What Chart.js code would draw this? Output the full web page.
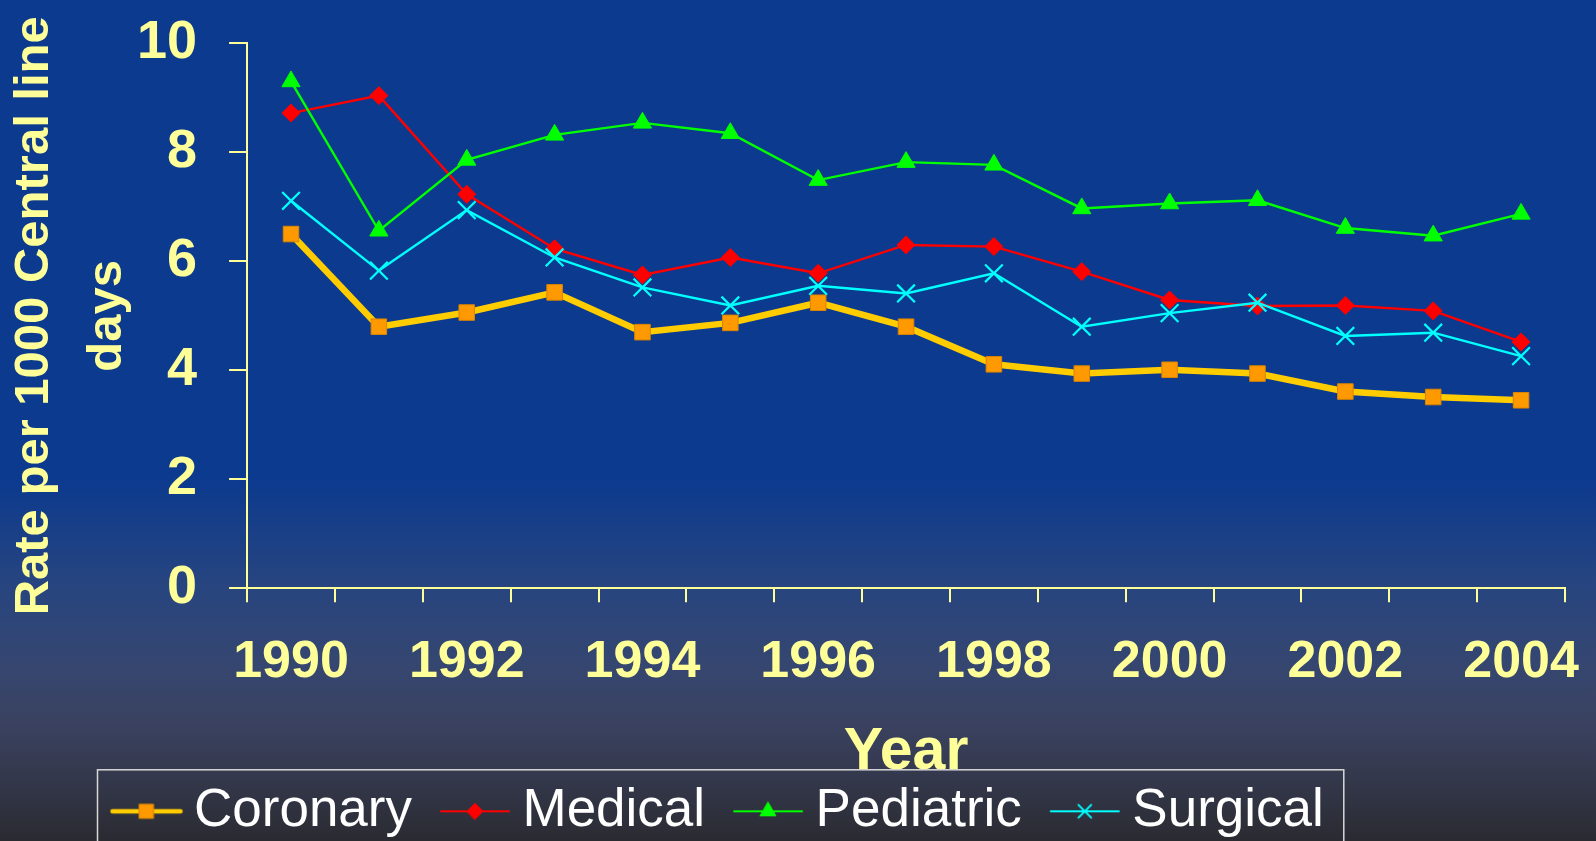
<!DOCTYPE html>
<html>
<head>
<meta charset="utf-8">
<title>Central line infection rates 1990-2004</title>
<script src="https://cdn.jsdelivr.net/npm/chart.js@4.4.1/dist/chart.umd.min.js"></script>
<style>
    html, body { margin: 0; padding: 0; background: #0c3a8e; }
    #wrap { position: relative; width: 1596px; height: 841px; }
</style>
</head>
<body>
<div id="wrap"><canvas id="rateChart"></canvas></div>
<script>
// ─── Data ───
const years = ['1990', '1991', '1992', '1993', '1994', '1995', '1996', '1997',
               '1998', '1999', '2000', '2001', '2002', '2003', '2004'];
const coronary  = [6.50, 4.80, 5.06, 5.43, 4.70, 4.87, 5.24, 4.80, 4.11, 3.94, 4.01, 3.94, 3.61, 3.51, 3.45];
const medical   = [8.72, 9.04, 7.23, 6.23, 5.75, 6.07, 5.78, 6.30, 6.27, 5.81, 5.29, 5.18, 5.19, 5.09, 4.52];
const pediatric = [9.30, 6.56, 7.86, 8.32, 8.54, 8.35, 7.49, 7.82, 7.77, 6.97, 7.06, 7.12, 6.61, 6.47, 6.87];
const surgical  = [7.11, 5.83, 6.94, 6.07, 5.52, 5.19, 5.55, 5.41, 5.78, 4.80, 5.05, 5.24, 4.63, 4.69, 4.26];
const yTicks = [0, 2, 4, 6, 8, 10];

// ─── Theme ───
const AXIS = '#ffff99';
const FONT = "'Liberation Sans', Arial, sans-serif";
Chart.defaults.font.family = FONT;

let bgGradient = null;
function getBackground(ctx, h) {
    const g = ctx.createLinearGradient(0, 0, 0, h);
    g.addColorStop(0, '#0c3a8e');
    g.addColorStop(0.57, '#0c3a8e');
    g.addColorStop(0.70, '#28457f');
    g.addColorStop(0.79, '#354670');
    g.addColorStop(0.86, '#3a4260');
    g.addColorStop(0.93, '#33374a');
    g.addColorStop(1, '#2a2b31');
    return g;
}

// ─── Legend samples (line + marker) ───
function makeSample(color, lineWidth, style, radius, fill, stroke, borderWidth) {
    const c = document.createElement('canvas');
    c.width = 74;
    c.height = 28;
    const g = c.getContext('2d');
    g.strokeStyle = color;
    g.lineWidth = lineWidth;
    g.lineCap = 'round';
    g.beginPath();
    g.moveTo(3, 14);
    g.lineTo(71, 14);
    g.stroke();
    if (Chart.helpers && Chart.helpers.drawPoint) {
        g.fillStyle = fill;
        g.strokeStyle = stroke;
        g.lineWidth = borderWidth;
        Chart.helpers.drawPoint(g, { pointStyle: style, radius, borderWidth, rotation: 0 }, 37, 14);
    }
    return c;
}

const series = [
    { label: 'Coronary',  data: coronary,  color: '#ffcc00', width: 6.5, style: 'rect',     r: 11,   fill: '#ff9900', stroke: '#d98400', bw: 1, lr: 10, lw: 4.5 },
    { label: 'Medical',   data: medical,   color: '#ff0000', width: 2.4, style: 'rectRot',  r: 9,    fill: '#ff0000', stroke: '#ff0000', bw: 1, lr: 8,  lw: 2 },
    { label: 'Pediatric', data: pediatric, color: '#00ff00', width: 2.4, style: 'triangle', r: 10.5, fill: '#00ff00', stroke: '#00ff00', bw: 1, lr: 9,  lw: 2 },
    { label: 'Surgical',  data: surgical,  color: '#00ffff', width: 2.4, style: 'crossRot', r: 12.5, fill: '#00ffff', stroke: '#00ffff', bw: 2.2, lr: 9, lw: 2 }
];
const samples = series.map(s => makeSample(s.color, s.lw, s.style, s.lr, s.fill, s.stroke, Math.min(s.bw, 2)));

// ─── Plugins ───
const backgroundPlugin = {
    id: 'slideBackground',
    beforeDraw(chart) {
        const ctx = chart.ctx;
        bgGradient = getBackground(ctx, chart.height);
        ctx.save();
        ctx.fillStyle = bgGradient;
        ctx.fillRect(0, 0, chart.width, chart.height);
        ctx.restore();
    }
};

const legendFramePlugin = {
    id: 'legendFrame',
    afterDraw(chart) {
        const lg = chart.legend;
        if (!lg || !lg.legendHitBoxes || !lg.legendHitBoxes.length) return;
        const hb = lg.legendHitBoxes;
        const last = hb[hb.length - 1];
        const x0 = hb[0].left - 28;
        const x1 = last.left + last.width + 20;
        const y0 = lg.top + 27;
        const ctx = chart.ctx;
        ctx.save();
        ctx.fillStyle = bgGradient || '#2a2b31';
        ctx.fillRect(x0, y0, x1 - x0, chart.height - y0 + 4);
        ctx.strokeStyle = '#d8d8d8';
        ctx.lineWidth = 1.5;
        ctx.strokeRect(x0, y0, x1 - x0, chart.height - y0 + 10);
        ctx.restore();
        lg.draw();
    }
};

// ─── Chart ───
const ctx = document.getElementById('rateChart').getContext('2d');

new Chart(ctx, {
    type: 'line',
    data: {
        labels: years,
        datasets: series.map((s, i) => ({
            label: s.label,
            data: s.data,
            order: series.length - 1 - i,
            borderColor: s.color,
            borderWidth: s.width,
            backgroundColor: s.fill,
            fill: false,
            tension: 0,
            pointStyle: s.style,
            pointRadius: s.r,
            pointHoverRadius: s.r,
            pointBackgroundColor: s.fill,
            pointBorderColor: s.stroke,
            pointBorderWidth: s.bw
        }))
    },
    options: {
        responsive: true,
        maintainAspectRatio: false,
        animation: false,
        events: [],
        layout: {
            padding: { left: 83.5, right: 31, top: 43.3, bottom: -6.8 }
        },
        scales: {
            x: {
                type: 'category',
                offset: true,
                grid: {
                    offset: true,
                    drawOnChartArea: false,
                    drawTicks: true,
                    tickLength: 14,
                    color: AXIS,
                    lineWidth: 2
                },
                border: { color: AXIS, width: 2 },
                ticks: {
                    autoSkip: false,
                    maxRotation: 0,
                    minRotation: 0,
                    padding: 3,
                    color: AXIS,
                    font: { size: 52, weight: 'bold', lineHeight: 2.2 },
                    callback: (val, i) => (i % 2 === 0 ? years[i] : '')
                },
                title: {
                    display: true,
                    text: 'Year',
                    color: AXIS,
                    font: { size: 59, weight: 'bold', lineHeight: 1 },
                    padding: { top: 0.5, bottom: -39.4 }
                }
            },
            y: {
                min: 0,
                max: 10,
                afterBuildTicks: axis => { axis.ticks = yTicks.map(v => ({ value: v })); },
                grid: {
                    drawOnChartArea: false,
                    drawTicks: true,
                    tickLength: 18,
                    color: AXIS,
                    lineWidth: 2
                },
                border: { color: AXIS, width: 2 },
                ticks: {
                    padding: 32,
                    color: AXIS,
                    font: { size: 54, weight: 'bold', lineHeight: 0.3 }
                },
                title: {
                    display: true,
                    text: ['Rate per 1000 Central line', 'days'],
                    color: AXIS,
                    font: { size: 49, weight: 'bold', lineHeight: 1.49 },
                    padding: { top: -86, bottom: -38.5 }
                }
            }
        },
        plugins: {
            tooltip: { enabled: false },
            legend: {
                display: true,
                position: 'bottom',
                align: 'start',
                reverse: true,
                labels: {
                    usePointStyle: true,
                    pointStyleWidth: 42,
                    padding: 42,
                    color: '#ffffff',
                    font: { size: 53, weight: 'normal' },
                    generateLabels: chart => {
                        const items = Chart.defaults.plugins.legend.labels.generateLabels(chart);
                        items.forEach(it => {
                            it.pointStyle = samples[it.datasetIndex];
                            it.fontColor = '#ffffff';
                        });
                        return items;
                    }
                }
            }
        }
    },
    plugins: [backgroundPlugin, legendFramePlugin]
});
</script>
</body>
</html>
